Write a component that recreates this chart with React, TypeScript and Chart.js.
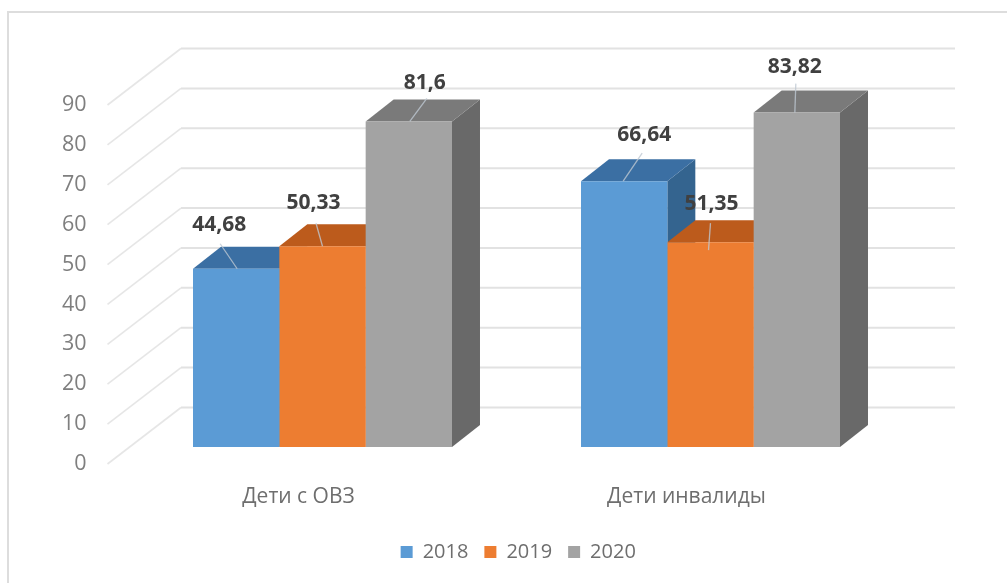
import React, { useEffect, useRef } from "react";
import { Chart, registerables } from "chart.js";

Chart.register(...registerables);

const categories = ["Дети с ОВЗ", "Дети инвалиды"];
const seriesNames = ["2018", "2019", "2020"];
const values2018 = [44.68, 66.64];
const values2019 = [50.33, 51.35];
const values2020 = [81.6, 83.82];

const FONT = "'Open Sans', sans-serif";
const W = 1007;
const H = 583;

const palette = [
  { front: "#5B9BD5", top: "#3B6FA3", side: "#34648F" },
  { front: "#ED7D31", top: "#BC5B1C", side: "#A85018" },
  { front: "#A3A3A3", top: "#7A7A7A", side: "#696969" },
];

// label placement relative to the top-front-centre of each bar: [series][category]
const labelPlacement = [
  [{ lx: -17, ly: -44, sx: -16, sy: -25, ex: 1, ey: 0 }, { lx: 20, ly: -46, sx: 18, sy: -28, ex: -1, ey: 0 }],
  [{ lx: -9, ly: -43, sx: -6.5, sy: -23, ex: 0, ey: 0 }, { lx: 1, ly: -38, sx: 0, sy: -19, ex: -2, ey: 8 }],
  [{ lx: 16, ly: -38, sx: 18, sy: -23, ex: 1, ey: 0 }, { lx: -2, ly: -46, sx: -1, sy: -29, ex: -2, ey: 0 }],
];

const wallPlugin = {
  id: "wall",
  afterLayout(chart: any) {
    chart.legend.left += 66;
    chart.legend.right += 66;
  },
  beforeDraw(chart: any) {
    const { ctx } = chart;
    ctx.save();
    ctx.fillStyle = "#ffffff";
    ctx.fillRect(0, 0, W, H);
    ctx.strokeStyle = "#DDDDDD";
    ctx.lineWidth = 2;
    ctx.beginPath();
    ctx.moveTo(8, 583);
    ctx.lineTo(8, 12);
    ctx.lineTo(1007, 12);
    ctx.stroke();
    ctx.restore();
  },
  beforeDatasetsDraw(chart: any) {
    const { ctx, scales, chartArea } = chart;
    const y = scales.y;
    const xs = chartArea.left - 21;
    const xe = chartArea.left + 52.5;
    const xr = chartArea.right + 50.5;
    ctx.save();
    y.ticks.forEach((t: any) => {
      const py = y.getPixelForValue(t.value);
      ctx.lineWidth = 1.6;
      ctx.strokeStyle = "#E6E6E6";
      ctx.beginPath();
      ctx.moveTo(xs, py);
      ctx.lineTo(xe, py - 56.5);
      ctx.stroke();
      ctx.lineWidth = 2;
      ctx.strokeStyle = "#E2E2E2";
      ctx.beginPath();
      ctx.moveTo(xe, py - 56.5);
      ctx.lineTo(xr, py - 56.5);
      ctx.stroke();
    });
    // all side and top faces go down first, left to right; the fronts then cover them
    const dx = 28;
    const dy = 22;
    chart.data.datasets.forEach((_: any, si: number) => {
      const c = palette[si];
      chart.getDatasetMeta(si).data.forEach((bar: any) => {
        const l = bar.x - bar.width / 2;
        const r = bar.x + bar.width / 2;
        const t = bar.y;
        const b = bar.base;
        ctx.fillStyle = c.side;
        ctx.beginPath();
        ctx.moveTo(r, t);
        ctx.lineTo(r + dx, t - dy);
        ctx.lineTo(r + dx, b - dy);
        ctx.lineTo(r, b);
        ctx.closePath();
        ctx.fill();
        ctx.fillStyle = c.top;
        ctx.beginPath();
        ctx.moveTo(l, t);
        ctx.lineTo(l + dx, t - dy);
        ctx.lineTo(r + dx, t - dy);
        ctx.lineTo(r, t);
        ctx.closePath();
        ctx.fill();
      });
    });
    ctx.restore();
  },
  afterDatasetsDraw(chart: any) {
    const { ctx } = chart;
    ctx.save();
    chart.data.datasets.forEach((ds: any, si: number) => {
      const meta = chart.getDatasetMeta(si);
      meta.data.forEach((bar: any, ci: number) => {
        const p = labelPlacement[si][ci];
        ctx.strokeStyle = "rgba(190,200,210,0.8)";
        ctx.lineWidth = 1.3;
        ctx.beginPath();
        ctx.moveTo(bar.x + p.sx, bar.y + p.sy);
        ctx.lineTo(bar.x + p.ex, bar.y + p.ey);
        ctx.stroke();
        ctx.fillStyle = "#404040";
        ctx.font = `bold 21px ${FONT}`;
        ctx.textAlign = "center";
        ctx.textBaseline = "middle";
        ctx.fillText(String(ds.data[ci]).replace(".", ","), bar.x + p.lx, bar.y + p.ly);
      });
    });
    ctx.restore();
  },
};

export default function App() {
  const ref = useRef<HTMLCanvasElement | null>(null);
  useEffect(() => {
    const seriesValues = [values2018, values2019, values2020];
    const chart = new Chart(ref.current as HTMLCanvasElement, {
      type: "bar",
      data: {
        labels: categories,
        datasets: seriesNames.map((name, i) => ({
          label: name,
          data: seriesValues[i],
          backgroundColor: palette[i].front,
          yAxisID: "bars",
          categoryPercentage: 0.6675,
          barPercentage: 1,
          clip: false as any,
        })),
      },
      options: {
        animation: false,
        responsive: false,
        layout: { padding: { left: 0, top: 105, right: 102.5, bottom: 11 } },
        plugins: {
          tooltip: { enabled: false },
          legend: {
            position: "bottom",
            labels: {
              boxWidth: 12,
              boxHeight: 12,
              padding: 16,
              color: "#6E6E6E",
              font: { family: FONT, size: 20 },
            },
          },
        },
        scales: {
          x: {
            grid: { display: false },
            border: { display: false },
            afterFit: (s: any) => {
              s.height = 62;
            },
            ticks: {
              color: "#6E6E6E",
              font: { family: FONT, size: 21 },
              padding: 12,
              labelOffset: -24,
              maxRotation: 0,
            },
          },
          y: {
            position: "left",
            min: 0,
            max: 90,
            grid: { display: false },
            border: { display: false },
            afterFit: (s: any) => {
              s.width = 128.5;
            },
            ticks: {
              stepSize: 10,
              color: "#7F7F7F",
              font: { family: FONT, size: 21.5 },
              padding: 34,
            },
          },
          bars: {
            display: false,
            position: "left",
            min: -4.27,
            max: 85.73,
          },
        },
      },
      plugins: [wallPlugin],
    } as any);
    return () => chart.destroy();
  }, []);
  return (
    <div style={{ position: "absolute", left: 0, top: 0, width: W, height: H }}>
      <canvas ref={ref} width={W} height={H} style={{ display: "block" }} />
    </div>
  );
}
